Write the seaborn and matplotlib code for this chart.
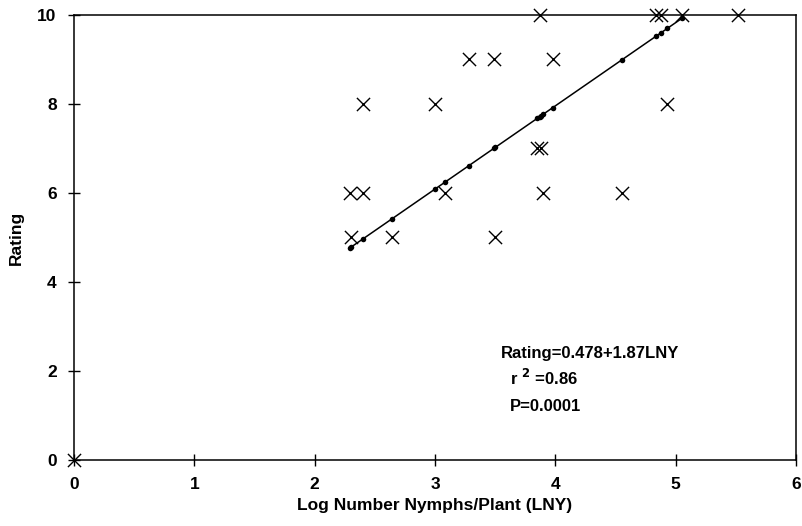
import numpy as np
import pandas as pd
import matplotlib
matplotlib.use("Agg")
import matplotlib.pyplot as plt
import seaborn as sns

# ── data ─────────────────────────────────────────────────────
lny = [0.0, 2.29, 2.30, 2.40, 2.40, 2.64, 3.00, 3.08, 3.28, 3.49,
       3.50, 3.85, 3.88, 3.87, 3.90, 3.98, 4.55, 4.84, 4.88, 4.93, 5.05, 5.52]
rating = [0, 6, 5, 8, 6, 5, 8, 6, 9, 9,
          5, 7, 7, 10, 6, 9, 6, 10, 10, 8, 10, 10]

# regression coefficients printed on the chart
b0, b1 = 0.478, 1.87
fit_x = sorted(set(x for x in lny if 0 < x <= 5.05))

df = pd.DataFrame({"LNY": lny, "Rating": rating})
fit = pd.DataFrame({"LNY": fit_x})
fit["Rating"] = b0 + b1 * fit["LNY"]

# ── plot ─────────────────────────────────────────────────────
sns.set_style("white", {"text.color": "black", "axes.labelcolor": "black",
                        "xtick.color": "black", "ytick.color": "black",
                        "xtick.bottom": True, "ytick.left": True})
plt.rcParams["font.family"] = ["Liberation Sans", "DejaVu Sans"]

fig = plt.figure(figsize=(8.02, 5.26), dpi=100)
ax = fig.add_axes([0.0923, 0.1255, 0.9002, 0.846])

sns.lineplot(data=fit, x="LNY", y="Rating", ax=ax, color="black",
             linewidth=1.1, marker="o", markersize=4, markeredgewidth=0)
sns.scatterplot(data=df, x="LNY", y="Rating", ax=ax, marker="x",
                s=90, color="black", linewidth=1.0, clip_on=False, zorder=5)

ax.set_xlim(0, 6)
ax.set_ylim(0, 10)
ax.set_xticks(range(0, 7))
ax.set_yticks(range(0, 11, 2))
ax.tick_params(bottom=True, left=True, direction="inout", length=9,
               width=1, labelsize=12.5, pad=8, colors="black")
for lab in ax.get_xticklabels() + ax.get_yticklabels():
    lab.set_fontweight("bold")
for s in ax.spines.values():
    s.set_linewidth(1.1)
    s.set_color("black")

ax.set_xlabel("Log Number Nymphs/Plant (LNY)", fontsize=12.5,
              fontweight="bold", labelpad=4)
ax.set_ylabel("Rating", fontsize=12.5, fontweight="bold", labelpad=10)

ax.text(3.55, 2.3, "Rating=0.478+1.87LNY", fontsize=12, fontweight="bold")
ax.text(3.62, 1.68, r"r $^{\mathbf{2}}$ =0.86", fontsize=12, fontweight="bold")
ax.text(3.62, 1.1, "P=0.0001", fontsize=12, fontweight="bold")

fig.savefig("out.png", dpi=100)
